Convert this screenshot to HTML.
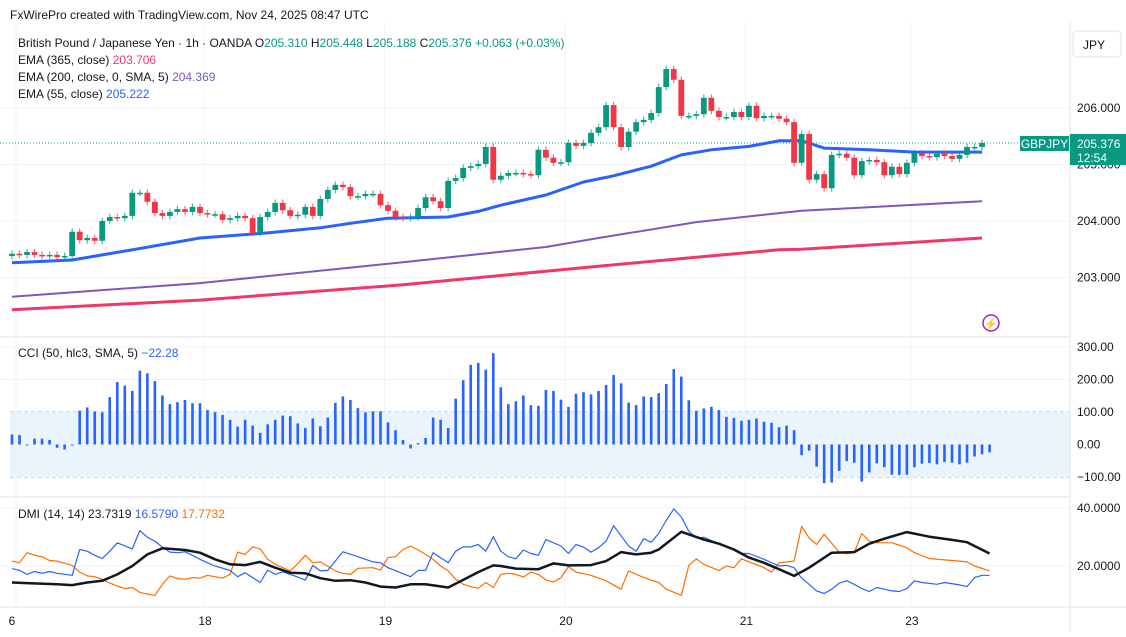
<!DOCTYPE html>
<html><head><meta charset="utf-8"><style>
body{margin:0;background:#fff;}
svg text{font-family:"Liberation Sans",sans-serif;}
</style></head><body>
<svg id="c" width="1126" height="632" xmlns="http://www.w3.org/2000/svg">
<rect width="1126" height="632" fill="#fff"/>
<g id="grid"></g>
<rect x="10" y="412" width="1060" height="65" fill="#e9f4fd"/>
<g id="marks"></g>
<line x1="0" y1="337" x2="1070" y2="337" stroke="#e0e3eb"/>
<line x1="0" y1="497" x2="1070" y2="497" stroke="#e0e3eb"/>
<line x1="0" y1="607" x2="1126" y2="607" stroke="#e0e3eb"/>
<line x1="1070" y1="22" x2="1070" y2="632" stroke="#e0e3eb"/>
<text x="10" y="19" font-size="12" fill="#131722">FxWirePro created with TradingView.com, Nov 24, 2025 08:47 UTC</text>
<text x="18" y="47" font-size="12" fill="#131722">British Pound / Japanese Yen · 1h · OANDA <tspan>O</tspan><tspan fill="#089981">205.310</tspan> H<tspan fill="#089981">205.448</tspan> L<tspan fill="#089981">205.188</tspan> C<tspan fill="#089981">205.376 +0.063 (+0.03%)</tspan></text>
<text x="18" y="64" font-size="12" fill="#131722">EMA (365, close) <tspan fill="#f23668">203.706</tspan></text>
<text x="18" y="81" font-size="12" fill="#131722">EMA (200, close, 0, SMA, 5) <tspan fill="#7e57c2">204.369</tspan></text>
<text x="18" y="98" font-size="12" fill="#131722">EMA (55, close) <tspan fill="#2962ff">205.222</tspan></text>
<text x="18" y="357" font-size="12" fill="#131722">CCI (50, hlc3, SMA, 5) <tspan fill="#2962ff">−22.28</tspan></text>
<text x="18" y="518" font-size="12" fill="#131722">DMI (14, 14) <tspan>23.7319</tspan> <tspan fill="#2962ff">16.5790</tspan> <tspan fill="#ff6d00">17.7732</tspan></text>
<rect x="1073" y="31" width="48" height="26" rx="4" fill="#fff" stroke="#e0e3eb"/>
<text x="1083" y="49" font-size="12" fill="#131722">JPY</text>
<g id="axes"></g>
<rect x="1020" y="136" width="49" height="15" fill="#089981"/>
<text x="1044.5" y="148" font-size="12" fill="#fff" text-anchor="middle">GBPJPY</text>
<rect x="1070" y="134" width="56" height="31" fill="#089981"/>
<text x="1077" y="148" font-size="12" fill="#fff">205.376</text>
<text x="1077" y="162" font-size="12" fill="#fff">12:54</text>
<circle cx="991" cy="323" r="8" fill="none" stroke="#9c27b0" stroke-width="1.5"/>
<text x="991" y="327.5" font-size="11" fill="#9c27b0" text-anchor="middle">⚡</text>
</svg>
<script>
const closes=[203.42,203.40,203.45,203.40,203.38,203.40,203.36,203.38,203.81,203.66,203.70,203.65,204.00,204.07,204.05,204.09,
204.50,204.50,204.34,204.14,204.09,204.16,204.21,204.16,204.25,204.14,204.12,204.12,204.02,204.05,204.09,204.05,203.79,204.07,204.16,204.32,204.19,204.09,204.11,204.25,204.09,204.39,204.55,204.64,204.60,204.44,204.44,204.48,204.48,204.28,204.18,204.07,204.05,204.07,204.23,204.42,204.35,204.23,204.71,204.76,204.94,204.97,205.01,205.31,204.73,
204.80,204.85,204.85,204.83,204.81,205.26,205.12,205.03,205.04,205.38,205.33,205.38,205.56,205.66,206.05,205.66,205.31,205.58,205.75,205.79,205.91,206.37,206.69,206.50,205.86,205.86,205.89,206.18,205.95,205.84,205.84,205.93,205.84,206.04,205.82,205.86,205.86,205.81,205.75,205.03,205.54,204.73,204.83,204.58,205.17,205.19,205.12,204.81,205.06,205.08,205.04,204.81,204.96,204.83,205.03,205.20,205.15,205.13,205.19,205.15,205.10,205.17,205.31,205.31,205.38];
const firstOpen=203.38;
const ema55Idx=[0,8,12,16,25,34,41,45,50,58,62,65,71,76,80,85,89,93,98,102,105,108,114,120,129];
const ema55Val=[203.26,203.31,203.40,203.49,203.70,203.79,203.88,203.96,204.05,204.07,204.17,204.28,204.46,204.69,204.80,204.97,205.17,205.26,205.32,205.42,205.42,205.29,205.26,205.22,205.22];
const ema200Idx=[0,25,52,71,78,91,102,105,129];
const ema200Val=[202.66,202.90,203.27,203.54,203.70,203.98,204.14,204.18,204.35];
const ema365Idx=[0,25,52,78,91,102,105,129];
const ema365Val=[202.43,202.60,202.87,203.20,203.36,203.49,203.50,203.70];
const cci=[31,29,-3,18,18,14,-10,-15,-3,104,114,102,99,146,192,181,165,227,219,195,151,124,130,137,127,127,106,99,91,76,55,76,58,36,62,76,89,87,65,51,80,56,83,128,148,137,112,99,102,102,68,44,14,-12,4,20,83,76,51,141,198,245,251,230,281,176,
124,133,151,121,119,168,165,138,116,156,161,154,165,183,214,188,129,121,148,146,158,186,232,209,136,104,111,116,106,85,82,73,76,80,70,67,53,58,44,-33,-19,-68,-119,-117,-81,-51,-56,-114,-86,-58,-70,-93,-94,-93,-70,-59,-57,-61,-54,-56,-61,-56,-37,-30,-24];
const pdiIdx=[0,1,2,3,4,5,6,8,9,10,11,12,13,14,16,17,18,19,20,21,22,23,24,25,26,27,29,30,31,33,34,35,36,37,38,39,40,41,42,44,46,48,49,50,53,54,55,56,58,59,60,61,62,63,64,65,66,67,68,69,70,71,73,74,75,76,77,78,79,80,82,83,84,85,86,87,88,89,90,91,92,94,96,97,98,100,102,103,104,105,106,107,108,109,110,111,112,113,114,115,116,117,118,119,120,121,123,124,126,127,128,129,130];
const pdiVal=[19.1,18.5,17.1,18.1,17.5,18.1,17.5,16.8,25.7,25.1,23.7,22.6,25.1,28,25.9,32.2,29.9,28.6,26.5,24.8,24.6,24.9,23.7,22.3,21.1,20,18.5,16.3,17.7,14.3,18.6,17.1,18,17.1,16.2,15.1,20.2,18.3,18.5,24.9,23.2,21.4,21.1,19.4,16.3,18.5,18.5,24.6,21.1,25.1,26.6,26.6,27.4,25.1,30.1,25.1,23.2,22.5,25.5,24.3,23.7,29.1,26.9,24.3,27.4,26.5,24.8,26.3,28.6,33.9,26.9,25.1,29.4,28.2,31.2,35.7,39.7,36.9,32,29.7,29.9,27.7,25.9,24.3,24.3,22.3,20,20.2,19.4,15.8,13.7,11.4,10.5,12,14.1,14.9,13.7,12.2,11.2,12.6,12,11.4,11.2,12.2,14.9,14.3,13.7,14.3,13.5,12.9,16,16.8,16.8];
const mdiIdx=[0,1,2,3,4,5,6,8,9,10,11,12,13,14,15,16,17,18,19,20,21,22,23,24,25,26,28,29,30,31,32,33,34,35,37,38,39,40,41,43,44,45,46,48,49,50,51,52,53,54,55,56,57,58,59,60,61,62,63,64,65,66,67,68,69,70,71,72,73,74,75,77,79,81,82,84,86,87,89,90,91,92,94,95,96,97,100,101,102,104,105,106,107,108,110,111,112,113,114,115,117,119,120,122,124,126,127,128,130];
const mdiVal=[21.7,21.1,24.6,23.7,23.2,21.9,21.7,20.2,17.9,16.6,16.3,15.4,14.1,13.1,12.2,12.6,10.9,10.3,9.9,13.7,16.6,15.7,15.4,16,15.8,16.8,15.8,17.1,24.8,24,26.6,25.9,22.3,20.6,18.3,20.8,23.7,21.1,21.4,18.3,17.5,17.1,19.2,19.4,18.6,22.9,23.2,25.7,26.9,25.5,24,22.3,20,18.3,15.4,13.7,12.9,12.3,14.3,12.6,17.1,17.5,17.1,16.2,17.9,17.1,15.2,14.5,16,19.8,17.9,16.8,14.9,12,18.3,16,14.3,12,9.9,20.2,22.5,20.6,18.5,20,19.4,22.5,19.4,17.9,21.1,21.7,33.7,29.7,27.4,30.9,24.8,24.2,24.6,31.2,28.6,28,28,26.3,24.6,22.6,22.1,21.7,21.4,20,18.3];
const adxIdx=[0,2,6,8,10,12,14,16,18,20,23,25,27,29,31,33,35,37,39,41,43,45,47,49,51,53,55,58,60,62,64,65,67,70,72,74,77,79,81,83,85,86,89,92,94,96,98,100,102,104,106,109,112,114,116,119,122,125,127,130];
const adxVal=[14.3,14.1,13.7,13.4,14.3,14.9,17.1,20,24,26.1,25.5,24.6,22.3,20.6,20.3,21.4,19.4,17.7,17.5,15.8,14.9,15.1,14.3,12.9,12.6,13.7,13.7,12.6,15.2,17.9,20.2,20,19.1,18.9,20.9,20.2,20.3,21.7,24.8,24,24.6,25.7,31.8,29.1,27.7,25.7,22.9,21.1,18.9,16.6,19.4,24.6,24.8,27.7,29.4,31.7,30.1,29,28.2,24.3];
const priceTicks=[206,205,204,203];
const cciTicks=[300,200,100,0,-100];
const dmiTicks=[40,20];
const timeIdx=[0,25,49,73,97,119];
const timeLabels=["6","18","19","20","21","23"];

const NS="http://www.w3.org/2000/svg";
const X=i=>12+i*7.52;
const Y=p=>108+(206-p)*56.5;
const CY=v=>444.5-v*0.325;
const DY=v=>566-(v-20)*2.9;
function el(tag,attrs,parent){const e=document.createElementNS(NS,tag);for(const k in attrs)e.setAttribute(k,attrs[k]);parent.appendChild(e);return e;}
const grid=document.getElementById('grid'),marks=document.getElementById('marks'),axes=document.getElementById('axes');

timeIdx.forEach((ti,k)=>{
  const l=el('line',{x1:X(ti)+4,x2:X(ti)+4,y1:22,y2:607,stroke:'#f0f3fa'},grid);
  
  
  const t=el('text',{x:k?X(ti)+5:X(ti),y:625,'font-size':12,fill:'#131722','text-anchor':'middle'},axes);
  t.textContent=timeLabels[k];
  
  
});
priceTicks.forEach(p=>{
  const l=el('line',{x1:0,x2:1070,y1:Y(p),y2:Y(p),stroke:'#f0f3fa'},grid);
  
  
  const t=el('text',{x:1077,y:Y(p)+4,'font-size':12,fill:'#131722'},axes);
  t.textContent=p.toFixed(3);
  
  
});
cciTicks.forEach(v=>{
  const t=el('text',{x:1077,y:CY(v)+4,'font-size':12,fill:'#131722'},axes);
  t.textContent=(v<0?'−'+Math.abs(v):v).toString()+'.00';
  
  
  if(v!==300&&v!==200){
    const l=el('line',{x1:10,x2:1070,y1:CY(v),y2:CY(v),stroke:'#a8abb3','stroke-dasharray':'4 3'},grid);
    
    
  } else {
    const l=el('line',{x1:0,x2:1070,y1:CY(v),y2:CY(v),stroke:'#f0f3fa'},grid);
    
    
  }
});
dmiTicks.forEach(v=>{
  const l=el('line',{x1:0,x2:1070,y1:DY(v),y2:DY(v),stroke:'#f0f3fa'},grid);
  
  
  const t=el('text',{x:1077,y:DY(v)+4,'font-size':12,fill:'#131722'},axes);
  t.textContent=v.toFixed(4);
  
  
});
const lp=el('line',{x1:0,x2:1020,y1:Y(closes[closes.length-1]),y2:Y(closes[closes.length-1]),stroke:'#089981','stroke-dasharray':'1 2'},marks);



function line(idx,val,yf,color,w,name){
  const d=idx.map((ix,k)=>(k?'L':'M')+X(ix).toFixed(1)+','+yf(val[k]).toFixed(1)).join('');
  const p=el('path',{d:d,fill:'none',stroke:color,'stroke-width':w,'stroke-linejoin':'round'},marks);
  
  
}
line(ema365Idx,ema365Val,Y,'#f23668',3,'ema365-line');
line(ema200Idx,ema200Val,Y,'#7e57c2',2,'ema200-line');
line(ema55Idx,ema55Val,Y,'#2962ff',3,'ema55-line');

let prev=firstOpen;
closes.forEach((c,i)=>{
  const o=prev;prev=c;
  const up=c>=o,col=up?'#089981':'#f23645';
  const hi=Math.max(o,c)+0.06,lo=Math.min(o,c)-0.06;
  const x=X(i);
  const w=el('line',{x1:x,x2:x,y1:Y(hi),y2:Y(lo),stroke:col,'stroke-width':1.2,opacity:0.7},marks);
  
  
  const top=Y(Math.max(o,c)),h=Math.max(1.5,Y(Math.min(o,c))-top);
  const b=el('rect',{x:x-2.9,y:top,width:5.8,height:h,fill:col},marks);
  
  
});
cci.forEach((v,i)=>{
  const y0=CY(0),y1=CY(v);
  const r=el('rect',{x:X(i)-1.3,y:Math.min(y0,y1),width:2.6,height:Math.max(1,Math.abs(y1-y0)),fill:'#2962ff'},marks);
  
  
});
line(mdiIdx,mdiVal,DY,'#ff6d00',1.2,'minus-di-line');
line(pdiIdx,pdiVal,DY,'#2962ff',1.2,'plus-di-line');
line(adxIdx,adxVal,DY,'#131722',2.5,'adx-line');
</script>
</body></html>
